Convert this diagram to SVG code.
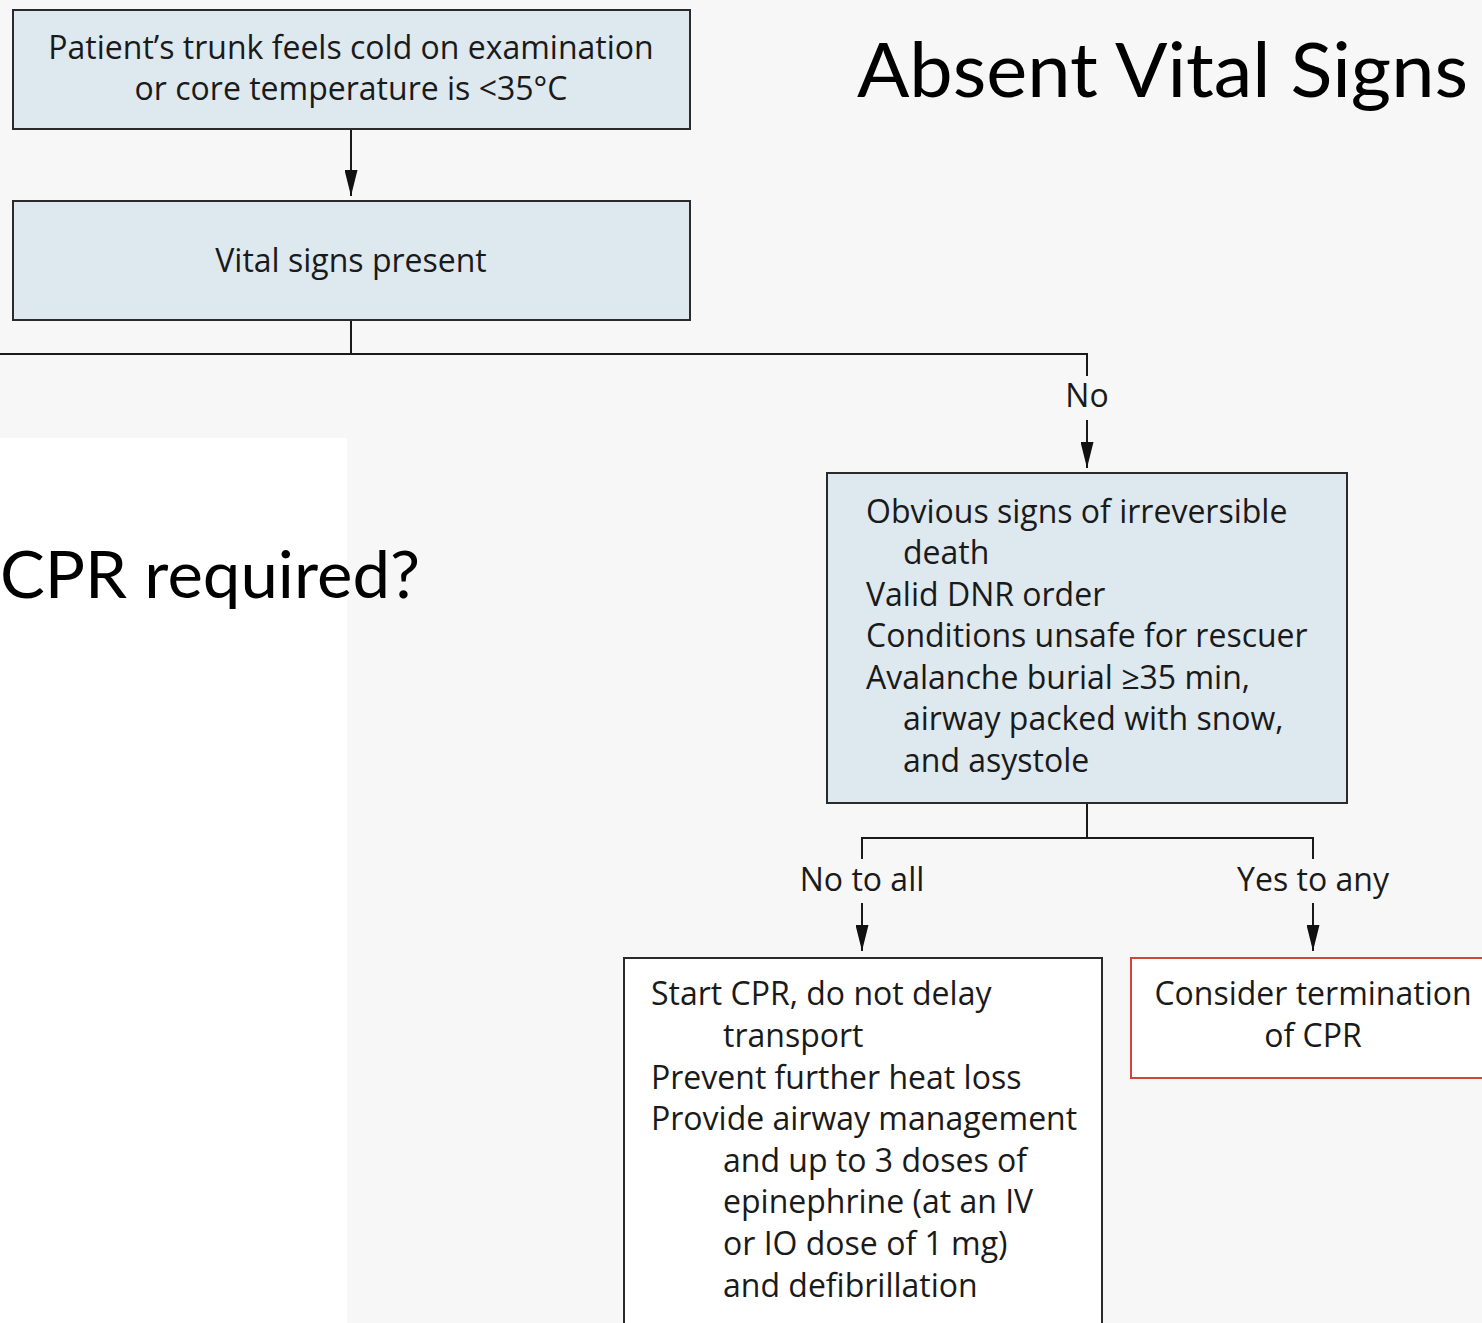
<svg xmlns="http://www.w3.org/2000/svg" width="1482" height="1323" viewBox="0 0 1482 1323">
  <defs>
    <marker id="arrow" markerWidth="26" markerHeight="13" refX="26" refY="6.5" orient="auto" markerUnits="userSpaceOnUse" viewBox="0 0 26 13">
      <path d="M0,0 L26,6.5 L0,13 Z" fill="#111111"/>
    </marker>
    <style>
      .bg { fill: #f7f7f7; }
      .box { fill: #dde8ef; stroke: #2a2a2a; stroke-width: 2; }
      .plain { fill: #ffffff; stroke: #2a2a2a; stroke-width: 2; }
      .alert { fill: #ffffff; stroke: #d1453a; stroke-width: 2; }
      .t { font-family: "Open Sans", "Noto Sans", sans-serif; font-size: 32px; fill: #1a1a1a; }
      .c { text-anchor: middle; }
      .big { font-family: Lato, "Liberation Sans", sans-serif; fill: #000000; }
      .link { fill: none; stroke: #1a1a1a; stroke-width: 2; }
      .arr { fill: none; stroke: #1a1a1a; stroke-width: 2; }
    </style>
  </defs>

  <rect class="bg" x="0" y="0" width="1482" height="1323"/>
  <rect x="0" y="438" width="347" height="885" fill="#ffffff"/>

  <text class="big" x="857" y="97" font-size="76" textLength="611" lengthAdjust="spacingAndGlyphs">Absent Vital Signs</text>
  <text class="big" x="0" y="598" font-size="66" textLength="420" lengthAdjust="spacingAndGlyphs">CPR required?</text>

  <!-- connectors -->
  <g id="connectors">
    <line class="arr" x1="351" y1="129" x2="351" y2="196" marker-end="url(#arrow)"/>
    <polyline class="link" points="351,320 351,354 1087,354 1087,376"/>
    <line class="link" x1="0" y1="354" x2="351" y2="354"/>
    <line class="arr" x1="1087" y1="420" x2="1087" y2="468" marker-end="url(#arrow)"/>
    <polyline class="link" points="1087,803 1087,838"/>
    <polyline class="link" points="862,859 862,838 1313,838 1313,859"/>
    <line class="arr" x1="862" y1="903" x2="862" y2="951" marker-end="url(#arrow)"/>
    <line class="arr" x1="1313" y1="903" x2="1313" y2="951" marker-end="url(#arrow)"/>
    <text class="t c" x="1087" y="407">No</text>
    <text class="t c" x="862" y="891">No to all</text>
    <text class="t c" x="1313" y="891">Yes to any</text>
  </g>

  <g id="cold-trunk">
    <rect class="box" x="13" y="10" width="677" height="119"/>
    <text class="t c" x="351" y="59">Patient’s trunk feels cold on examination</text>
    <text class="t c" x="351" y="100">or core temperature is &lt;35°C</text>
  </g>

  <g id="vital-signs">
    <rect class="box" x="13" y="201" width="677" height="119"/>
    <text class="t c" x="351" y="272">Vital signs present</text>
  </g>

  <g id="irreversible">
    <rect class="box" x="827" y="473" width="520" height="330"/>
    <text class="t" x="866" y="523">Obvious signs of irreversible</text>
    <text class="t" x="903" y="564">death</text>
    <text class="t" x="866" y="606">Valid DNR order</text>
    <text class="t" x="866" y="647">Conditions unsafe for rescuer</text>
    <text class="t" x="866" y="689">Avalanche burial ≥35 min,</text>
    <text class="t" x="903" y="730">airway packed with snow,</text>
    <text class="t" x="903" y="772">and asystole</text>
  </g>

  <g id="start-cpr">
    <rect class="plain" x="624" y="958" width="478" height="380"/>
    <text class="t" x="651" y="1005">Start CPR, do not delay</text>
    <text class="t" x="723" y="1047">transport</text>
    <text class="t" x="651" y="1089">Prevent further heat loss</text>
    <text class="t" x="651" y="1130">Provide airway management</text>
    <text class="t" x="723" y="1172">and up to 3 doses of</text>
    <text class="t" x="723" y="1213">epinephrine (at an IV</text>
    <text class="t" x="723" y="1255">or IO dose of 1 mg)</text>
    <text class="t" x="723" y="1297">and defibrillation</text>
  </g>

  <g id="terminate">
    <rect class="alert" x="1131" y="958" width="370" height="120"/>
    <text class="t c" x="1313" y="1005">Consider termination</text>
    <text class="t c" x="1313" y="1047">of CPR</text>
  </g>
</svg>
